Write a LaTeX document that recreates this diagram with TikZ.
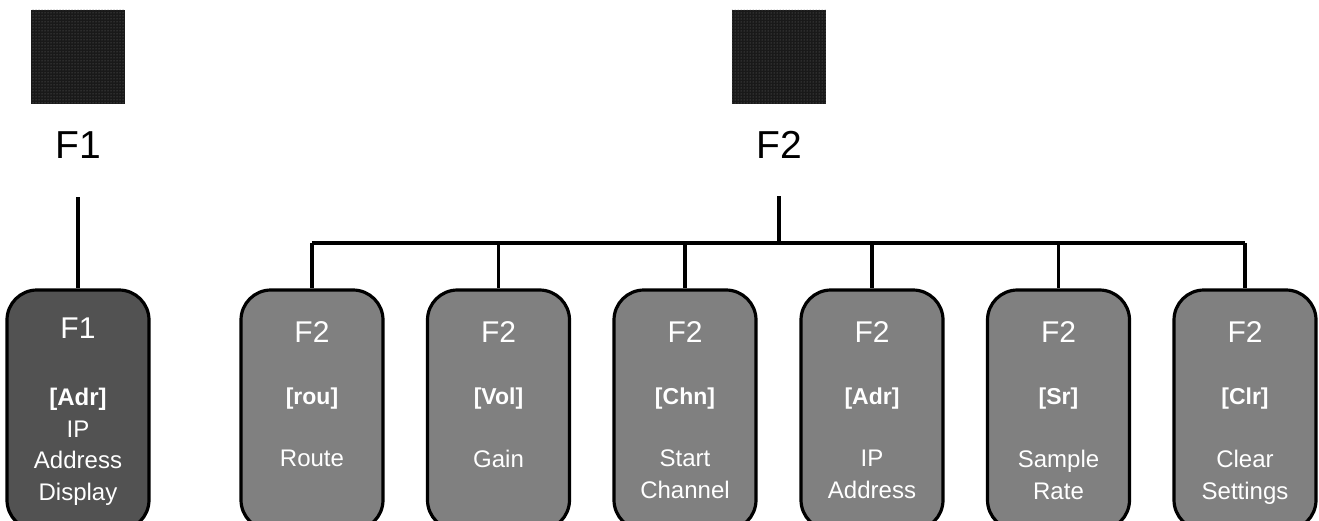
\documentclass[tikz,border=0pt]{standalone}
\usepackage{fontspec}
\setmainfont{Liberation Sans}
\usetikzlibrary{patterns}
\begin{document}
\begin{tikzpicture}[x=1pt,y=-1pt,
  conn/.style={line width=3.2pt},
  keysq/.style={draw=none,fill=black!90,minimum width=94pt,minimum height=94pt,inner sep=0pt},
  toplbl/.style={font=\fontsize{39}{44}\selectfont,inner sep=0pt},
  menubox/.style={draw=black,line width=3.2pt,rounded corners=30pt,minimum width=142pt,minimum height=240pt,inner sep=0pt},
  f2box/.style={menubox,fill=black!50},
  f1box/.style={menubox,fill=black!68},
  hdr/.style={text=white,font=\fontsize{30}{34}\selectfont,inner sep=0pt},
  tag/.style={text=white,font=\bfseries\fontsize{23}{27}\selectfont,inner sep=0pt},
  body/.style={text=white,font=\fontsize{24}{31.5}\selectfont,align=center,inner sep=0pt,anchor=north},
]
\useasboundingbox (0,0) rectangle (1319,520);
% keys
\node[keysq] (k1) at (78,57) {};
\node[keysq] (k2) at (779,57) {};
\fill[pattern=dots,pattern color=black!55] (k1.south west) rectangle (k1.north east);
\fill[pattern=dots,pattern color=black!55] (k2.south west) rectangle (k2.north east);
\node[toplbl] (l1) at (78,145) {F1};
\node[toplbl] (l2) at (779,145) {F2};
\coordinate (l1b) at (78,197);
\coordinate (l2b) at (779,196);
% boxes
\node[f1box] (b0) at (78,410) {};
\foreach \i/\x in {1/312,2/498.5,3/685,4/872,5/1058.5,6/1245}{
  \node[f2box] (b\i) at (\x,410) {};
}
% connectors
\draw[conn] (l1b) -- (b0.north);
\coordinate (bus) at (779,243);
\draw[conn] (l2b) -- (bus);
\draw[conn] (b1.north |- bus) -- (b6.north |- bus);
\foreach \i in {1,...,6}{
  \draw[conn] (b\i.north |- bus) -- (b\i.north);
}
% texts F1 box
\node[hdr] (h0) at (78,328) {F1};
\node[body,anchor=north] (t0) at (78,388) {\textbf{[Adr]}\\IP\\Address\\Display};
% texts F2 boxes
\foreach \i/\x/\tg/\bd in {1/312/{[rou]}/{Route},2/498.5/{[Vol]}/{Gain},3/685/{[Chn]}/{Start\\Channel},4/872/{[Adr]}/{IP\\Address},5/1058.5/{[Sr]}/{Sample\\Rate},6/1245/{[Clr]}/{Clear\\Settings}}{
  \node[hdr] (h\i) at (\x,332) {F2};
  \node[tag] (g\i) at (\x,399) {\tg};
  \node[body] (d\i) at (\x,450) {\bd};
}
\end{tikzpicture}
\end{document}
